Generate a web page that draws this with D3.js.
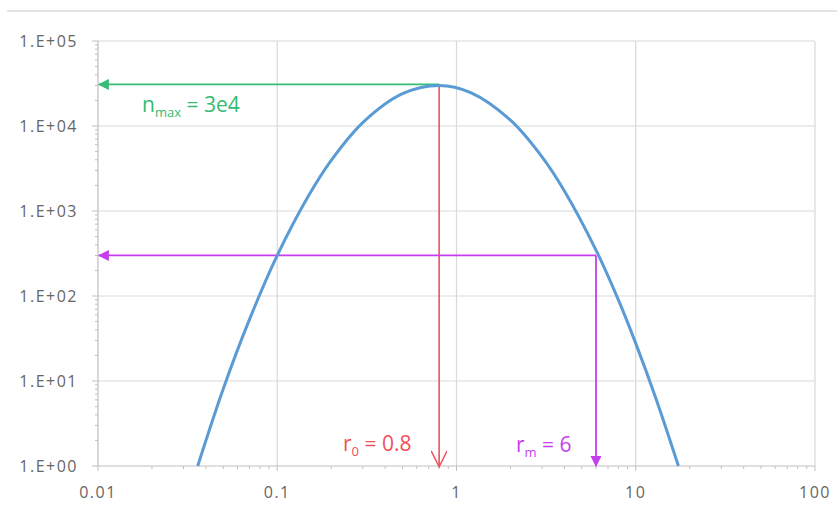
<!DOCTYPE html>
<html>
<head>
<meta charset="utf-8">
<script src="https://cdn.jsdelivr.net/npm/d3@7"></script>
<style>
  body { margin: 0; background: #fff; }
  svg { display: block; font-family: "Open Sans", "Liberation Sans", sans-serif; }
</style>
</head>
<body>
<svg id="chart" width="837" height="505"></svg>
<script>
// size distribution (r, n)
const radius = [0.036, 0.05, 0.07, 0.1, 0.15, 0.2, 0.3, 0.5, 0.8, 1.2, 2, 3, 4, 6, 8, 10, 13, 17.3];
const count  = [1, 8.1, 53, 300, 1530, 3940, 10960, 24000, 30000, 24700, 11700, 4330, 1720, 347, 90, 27.7, 6.1, 1];

const xTicks = [0.01, 0.1, 1, 10, 100];
const xTickLabels = ["0.01", "0.1", "1", "10", "100"];
const yTicks = [1, 10, 100, 1000, 10000, 100000];
const yTickLabels = ["1.E+00", "1.E+01", "1.E+02", "1.E+03", "1.E+04", "1.E+05"];

// annotations
const peakR = 0.8, peakN = 30000;
const rm = 6, rmN = 300;

const svg = d3.select("#chart");
const margin = { top: 41, right: 22, bottom: 39, left: 98 };
const W = 837, H = 505;

const x = d3.scaleLog().domain([0.01, 100]).range([margin.left, W - margin.right]);
const y = d3.scaleLog().domain([1, 100000]).range([H - margin.bottom, margin.top]);

const green = "#35bb74", red = "#f0505a", purple = "#c63ef0";

// outer border line at top
svg.append("line")
  .attr("x1", 7).attr("x2", W).attr("y1", 11).attr("y2", 11)
  .attr("stroke", "#e3e3e3").attr("stroke-width", 2);

// gridlines
const grid = svg.append("g").attr("stroke", "#d9d9d9").attr("stroke-width", 1.2);
grid.selectAll(".gx").data(xTicks.slice(1)).enter().append("line")
  .attr("x1", d => x(d)).attr("x2", d => x(d))
  .attr("y1", y(1)).attr("y2", y(100000));
grid.selectAll(".gy").data(yTicks.slice(1)).enter().append("line")
  .attr("x1", x(0.01)).attr("x2", x(100))
  .attr("y1", d => y(d)).attr("y2", d => y(d));

// minor ticks
function minors(lo, hi) {
  const out = [];
  for (let p = lo; p < hi; p *= 10)
    for (let k = 2; k <= 9; k++) out.push(p * k);
  return out;
}
const axisCol = "#bfbfbf";

const xAxis = svg.append("g").attr("transform", `translate(0,${y(1)})`);
xAxis.append("line").attr("x1", x(0.01)).attr("x2", x(100))
  .attr("stroke", axisCol).attr("stroke-width", 1.2);
xAxis.selectAll(".mj").data(xTicks).enter().append("line")
  .attr("x1", d => x(d)).attr("x2", d => x(d)).attr("y1", 0).attr("y2", 5)
  .attr("stroke", axisCol);
xAxis.selectAll(".mn").data(minors(0.01, 100)).enter().append("line")
  .attr("x1", d => x(d)).attr("x2", d => x(d)).attr("y1", 0).attr("y2", 3)
  .attr("stroke", axisCol);
xAxis.selectAll("text").data(xTicks).enter().append("text")
  .attr("x", d => x(d)).attr("y", 32)
  .attr("text-anchor", "middle").attr("fill", "#666").attr("font-size", 16)
  .attr("letter-spacing", 1.5)
  .text((d, i) => xTickLabels[i]);

const yAxis = svg.append("g").attr("transform", `translate(${x(0.01)},0)`);
yAxis.append("line").attr("y1", y(1)).attr("y2", y(100000))
  .attr("stroke", axisCol).attr("stroke-width", 1.2);
yAxis.selectAll(".mj").data(yTicks).enter().append("line")
  .attr("y1", d => y(d)).attr("y2", d => y(d)).attr("x1", -6).attr("x2", 0)
  .attr("stroke", axisCol);
yAxis.selectAll(".mn").data(minors(1, 100000)).enter().append("line")
  .attr("y1", d => y(d)).attr("y2", d => y(d)).attr("x1", -3).attr("x2", 0)
  .attr("stroke", axisCol);
yAxis.selectAll("text").data(yTicks).enter().append("text")
  .attr("x", -20).attr("y", d => y(d)).attr("dy", "0.35em")
  .attr("text-anchor", "end").attr("fill", "#666").attr("font-size", 16)
  .attr("letter-spacing", 1.5)
  .text((d, i) => yTickLabels[i]);

// arrowheads
const defs = svg.append("defs");
function triMarker(id, col) {
  defs.append("marker").attr("id", id)
    .attr("viewBox", "0 0 10 10").attr("refX", 9).attr("refY", 5)
    .attr("markerWidth", 13).attr("markerHeight", 11).attr("markerUnits", "userSpaceOnUse")
    .attr("orient", "auto")
    .append("path").attr("d", "M0,0 L10,5 L0,10 Z").attr("fill", col);
}
triMarker("gArrow", green);
triMarker("mArrow", purple);
defs.append("marker").attr("id", "rArrow")
  .attr("viewBox", "0 0 10 10").attr("refX", 9.5).attr("refY", 5)
  .attr("markerWidth", 18).attr("markerHeight", 16).attr("markerUnits", "userSpaceOnUse")
  .attr("orient", "auto")
  .append("path").attr("d", "M0,0 L10,5 L0,10").attr("fill", "none")
  .attr("stroke", red).attr("stroke-width", 0.9);

// red vertical (r0)
svg.append("line")
  .attr("x1", x(peakR)).attr("x2", x(peakR))
  .attr("y1", y(peakN)).attr("y2", y(1))
  .attr("stroke", red).attr("stroke-width", 1.6)
  .attr("marker-end", "url(#rArrow)");

// green horizontal (nmax)
svg.append("line")
  .attr("x1", x(peakR)).attr("x2", x(0.01) + 1)
  .attr("y1", y(peakN) - 1).attr("y2", y(peakN) - 1)
  .attr("stroke", green).attr("stroke-width", 1.8)
  .attr("marker-end", "url(#gArrow)");

// purple lines (rm)
svg.append("line")
  .attr("x1", x(rm)).attr("x2", x(0.01) + 1)
  .attr("y1", y(rmN)).attr("y2", y(rmN))
  .attr("stroke", purple).attr("stroke-width", 1.8)
  .attr("marker-end", "url(#mArrow)");
svg.append("line")
  .attr("x1", x(rm)).attr("x2", x(rm))
  .attr("y1", y(rmN)).attr("y2", y(1))
  .attr("stroke", purple).attr("stroke-width", 1.8)
  .attr("marker-end", "url(#mArrow)");

// curve
const line = d3.line()
  .x((d, i) => x(radius[i]))
  .y((d, i) => y(count[i]))
  .curve(d3.curveCatmullRom.alpha(0.5));
svg.append("path")
  .attr("d", line(radius))
  .attr("fill", "none").attr("stroke", "#5b9bd5").attr("stroke-width", 3);

// labels
function label(px, py, base, sub, rest, col) {
  const t = svg.append("text").attr("x", px).attr("y", py)
    .attr("fill", col).attr("font-size", 21);
  t.append("tspan").text(base);
  t.append("tspan").attr("font-size", 13).attr("dy", 5).text(sub);
  t.append("tspan").attr("dy", -5).text(rest);
}
label(142, 112, "n", "max", " = 3e4", green);
label(343, 451, "r", "0", " = 0.8", red);
label(516, 452, "r", "m", " = 6", purple);
</script>
</body>
</html>
